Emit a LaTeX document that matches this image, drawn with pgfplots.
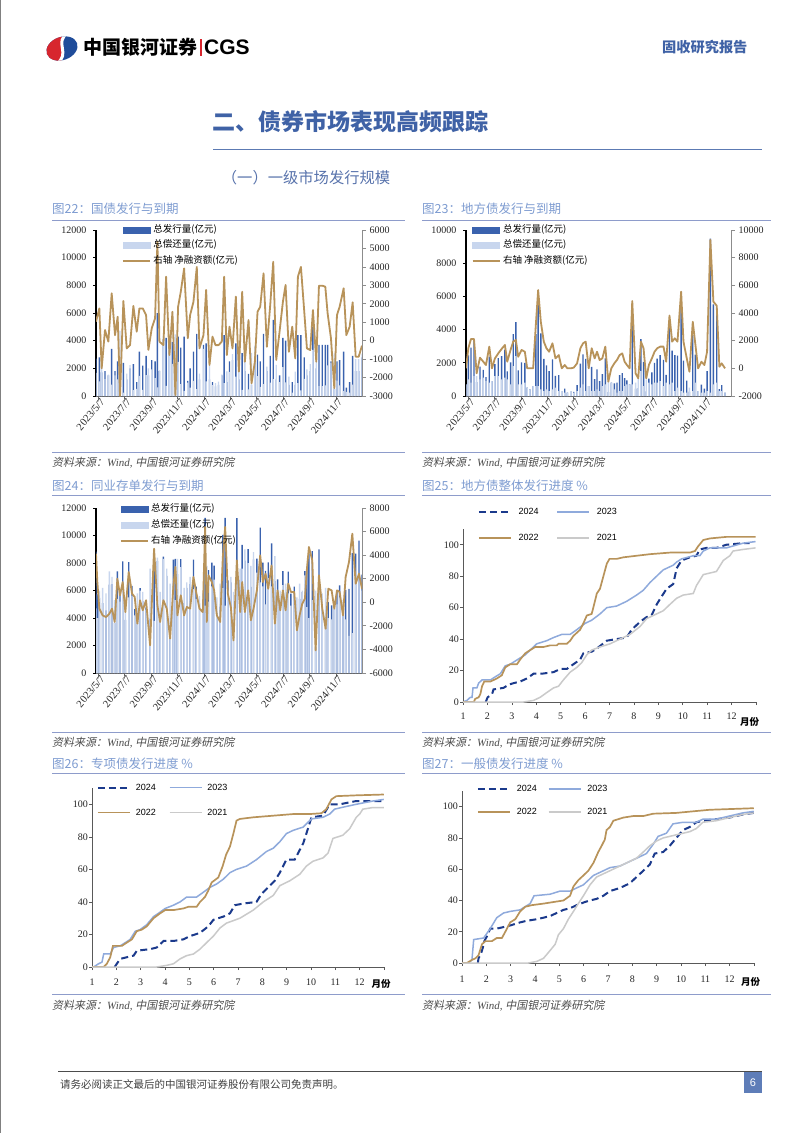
\documentclass[border=0pt]{standalone}
\usepackage{pgfplots}
\usepackage{pgfplotstable}
\pgfplotsset{compat=1.18}
\usepackage{fontspec}
\setmainfont{Liberation Serif}
\newfontfamily\cjk{Noto Sans CJK SC}
\newfontfamily\cjkit{Noto Sans CJK SC}[FakeSlant=0.2]
\newfontfamily\lsans{Liberation Sans}

\definecolor{barD}{HTML}{3A62AE}
\definecolor{barL}{HTML}{C8D6EE}
\definecolor{tanc}{HTML}{B8935A}
\definecolor{navy}{HTML}{1B3A8C}
\definecolor{lblue}{HTML}{8FAADC}
\definecolor{lgray}{HTML}{CACACA}
\definecolor{capblue}{HTML}{7E9CD1}
\definecolor{rulec}{HTML}{8E9CCB}
\definecolor{titleblue}{HTML}{3F62A6}
\definecolor{subblue}{HTML}{5873AC}
\definecolor{cgsred}{HTML}{D7262E}
\definecolor{cgsblue}{HTML}{1F4C9A}
\definecolor{pageblue}{HTML}{5E7DB8}

\pgfplotstableread{
x N I R
0 1030 2700 1670
10 1750 2800 1050
17 -1500 1700 3200
27 580 1800 1220
37 -50 1500 1550
47 2570 3400 830
57 300 1800 1500
65 1300 2500 1200
72 -3000 1700 4700
82 2150 2400 250
92 -420 1200 1620
102 -240 2000 2240
112 1880 2300 420
122 490 1000 510
130 1750 3200 1450
140 1750 2200 450
150 1390 2900 1510
157 -500 1500 2000
167 670 2600 1930
177 1210 2500 1290
184 5370 6000 630
190 -50 1800 1850
202 -240 4100 4340
210 3470 4200 730
220 -780 3500 4280
229 1570 3900 2330
238 -2950 1500 4450
246 1840 4300 2460
254 2650 3500 850
264 3920 4300 380
275 130 1100 970
282 1390 2000 610
292 2110 3200 1090
302 4000 4500 500
310 -420 1200 1620
322 300 3700 3400
330 2750 3800 1050
340 -1320 1200 2520
349 220 1000 780
358 -240 700 940
367 -240 800 1040
377 -50 1500 1550
384 3470 4400 930
392 -780 1000 1780
400 760 2500 1740
409 -420 2600 3020
419 2390 3800 1410
428 -1680 1200 2880
438 2650 3100 450
446 -1140 1800 2940
457 1120 1600 480
466 -2310 800 3110
476 -1140 2500 3640
484 1570 3000 1430
492 1840 2500 660
502 3650 4500 850
512 -330 1800 2130
522 1930 2900 970
531 4280 5500 1220
540 -1050 1200 2250
550 490 1500 1010
560 2110 4200 2090
568 3020 4000 980
578 -600 800 1400
588 760 1000 240
597 -960 800 1760
605 3470 4400 930
614 4000 4400 400
624 1570 2800 1230
632 -420 1500 1920
642 -510 1800 2310
650 1660 5000 3340
660 -1140 2000 3140
668 2980 3700 720
678 2980 3700 720
687 2930 3700 770
694 1480 3700 2220
704 130 2500 2370
714 -2580 500 3080
722 1390 2500 1110
730 1840 2600 760
742 2840 3200 360
750 300 600 300
760 760 1000 240
769 2080 2900 820
778 -870 1800 2670
787 -870 1800 2670
797 -270 2800 3070
}\tabA

\pgfplotstableread{
x N I R
0 0 700 700
7 1450 2450 1000
15 2120 2920 800
24 2120 3320 1200
32 -360 840 1200
42 770 1770 1000
52 480 1580 1100
60 240 1140 900
70 1570 2370 800
78 0 900 900
87 720 1920 1200
97 1080 2280 1200
107 1400 2400 1000
117 1690 2790 1100
124 480 1480 1000
134 1330 2030 700
142 1930 3730 1800
150 2050 4450 2400
157 840 1540 700
167 1330 2030 700
177 1200 2000 800
184 0 500 500
192 0 400 400
202 0 600 600
210 3130 3730 600
217 5660 6260 600
225 3370 3770 400
234 1930 2230 300
242 1450 1850 400
250 1200 1500 300
260 1810 2210 400
269 720 1220 500
279 960 1260 300
288 0 300 300
297 240 440 200
305 0 200 200
315 0 300 300
324 50 250 200
334 360 660 300
344 1450 1950 500
352 1810 2510 700
360 1930 2230 300
369 0 600 600
378 1450 1750 300
387 720 1020 300
394 1200 1600 400
402 600 900 300
410 720 1320 600
419 1570 2270 700
428 -960 240 1200
437 0 800 800
446 360 760 400
454 600 800 200
462 960 1260 300
470 1080 1380 300
477 480 1080 600
484 240 940 700
492 0 700 700
500 4870 5570 700
510 -360 440 800
518 -720 480 1200
526 1930 3430 1500
534 1450 2050 600
542 -720 280 1000
550 240 1040 800
559 720 1420 700
567 1200 2000 800
575 1450 2250 800
584 1570 2470 900
594 1570 2170 600
602 480 1280 800
612 3810 4510 700
620 1930 2730 800
628 2170 2470 300
636 1930 2430 500
647 5540 5840 300
654 1930 2130 200
664 720 920 200
672 -240 260 500
682 3370 3670 300
690 1690 2490 800
698 0 300 300
708 480 680 200
717 240 440 200
725 1200 1500 300
735 9280 9480 200
744 4820 5520 700
754 4530 5330 800
762 120 420 300
769 360 660 300
779 0 200 200
}\tabB

\pgfplotstableread{
x N I R
0 4120 8820 4700
4 1720 5720 4000
10 -540 5460 6000
20 -1110 5090 6200
30 -1250 4550 5800
40 -970 6430 7400
48 -540 6460 7000
56 -1670 3630 5300
64 2000 7400 5400
72 590 5790 5200
80 1720 8120 6400
88 -830 3870 4700
98 2570 8070 5500
108 730 6330 5600
116 450 4650 4200
124 -1810 3990 5800
132 170 6170 6000
140 -680 5220 5900
150 170 4770 4600
162 -3650 3950 7600
174 4550 8350 3800
184 -260 8140 8400
192 -1670 4230 5900
202 170 8470 8300
212 -540 7060 7600
222 -3080 3420 6500
232 1440 8240 6800
238 3000 8300 5300
244 -1110 7190 8300
254 590 8290 7700
264 -1110 5090 6200
272 -400 6200 6600
282 -540 6460 7000
292 2150 8250 6100
300 880 6280 5400
310 -540 5060 5600
320 -830 4970 5800
327 6390 11290 4900
332 -1670 6130 7800
337 2290 7490 5200
347 1720 8020 6300
354 1010 7810 6800
362 -1110 4390 5500
372 -1670 4830 6500
380 3840 10040 6200
387 6390 11290 4900
395 730 6730 6000
404 -400 6600 7000
412 -3230 2670 5900
422 3560 11260 7700
432 -830 6770 7600
438 1720 9320 7600
446 -830 8170 9000
456 1010 9010 8000
464 -1530 6270 7800
472 -540 8260 8800
482 1010 8310 7300
492 3980 10580 6600
500 1720 8020 6300
508 2430 7430 5000
516 1150 8050 6900
526 3130 9430 6300
536 -1810 6690 8500
544 1010 6810 5800
552 -680 5320 6000
560 1010 7410 6400
568 -680 5820 6500
576 1580 7380 5800
584 880 5780 4900
594 880 6280 5400
602 -2380 3120 5500
610 -1110 5390 6500
618 -120 5880 6000
626 310 7410 7100
632 2850 7650 4800
638 4690 8690 4000
648 3560 8860 5300
658 -4080 1920 6000
668 2290 8990 6700
678 -540 5260 5800
688 -2240 3960 6200
696 1150 5150 4000
706 1010 4910 3900
714 -540 4660 5200
722 1010 6010 5000
730 880 6380 5500
740 -1110 4190 5300
748 2150 6050 3900
758 3420 6120 2700
768 5820 8720 2900
778 1580 8680 7100
788 2430 9630 7200
797 1150 7150 6000
}\tabC

\pgfplotsset{
 barleft/.style={
  scale only axis, anchor=south west, width=266pt,
  xmin=0, xmax=797,
  axis x line*=bottom, axis y line*=left,
  x axis line style={-, draw=black!60, line width=0.9pt},
  y axis line style={-, draw=black, line width=1.3pt},
  xtick={7,86,166,245,324,402,481,560,640,719},
  xticklabels={2023/5/7,2023/7/7,2023/9/7,2023/11/7,2024/1/7,2024/3/7,2024/5/7,2024/7/7,2024/9/7,2024/11/7},
  xtick style={draw=black!60, line width=0.8pt},
  xticklabel style={rotate=50, anchor=east, inner sep=0pt, yshift=-4pt, xshift=2pt, font=\fontsize{10.5}{12}\selectfont, text=black!85},
  ytick style={draw=black, line width=0.8pt},
  tick align=outside, major tick length=3pt,
  yticklabel style={font=\fontsize{10}{12}\selectfont, text=black!85, xshift=-3pt},
  /pgf/number format/1000 sep={}, /pgf/number format/assume math mode=true,
  scaled y ticks=false,
 },
 barright/.style={
  scale only axis, anchor=south west, width=266pt,
  xmin=0, xmax=797,
  axis x line=none, axis y line*=right,
  y axis line style={-, draw=black!45, line width=0.9pt},
  ytick style={draw=black!45, line width=0.8pt},
  tick align=outside, major tick length=4pt,
  yticklabel style={font=\fontsize{10}{12}\selectfont, text=black!85},
  /pgf/number format/1000 sep={}, /pgf/number format/assume math mode=true,
  scaled y ticks=false,
  legend style={anchor=north west, draw=none, fill=none, inner sep=0pt, outer sep=0pt,
    font=\cjk\fontsize{9.5}{10}\selectfont, row sep=6.5pt,
    nodes={inner sep=0pt, text height=7pt, text depth=2pt},
    /tikz/every odd column/.append style={column sep=2.5pt}},
  legend cell align=left,
  legend image code/.code={\draw[#1] (0pt,0pt) -- (27pt,0pt);},
 },
 prog/.style={
  scale only axis, anchor=south west,
  xmin=1, xmax=13, ymin=0, ymax=110,
  xtick={1,...,13}, xticklabels={1,2,3,4,5,6,7,8,9,10,11,12,{}},
  ytick={0,20,...,100},
  axis x line*=bottom, axis y line*=left,
  axis line style={-, draw=black!65, line width=0.7pt},
  tick style={draw=black!65, line width=0.6pt},
  tick align=outside, major tick length=3pt,
  tick label style={font=\fontsize{10}{12}\selectfont, text=black!85},
  yticklabel style={inner sep=1pt},
  /pgf/number format/assume math mode=true,
  xlabel={\cjk\bfseries 月份}, xlabel style={anchor=center, font=\fontsize{9.5}{10}\selectfont},
  legend columns=2,
  legend style={anchor=north west, draw=none, fill=none, inner sep=0pt, outer sep=0pt,
    font=\lsans\fontsize{9}{10}\selectfont,
    nodes={inner sep=0pt, text height=7pt, text depth=2pt}},
  legend cell align=left,
  legend image code/.code={\draw[#1] (0pt,0pt) -- (32pt,0pt);},
  clip=false,
 },
 s24/.style={navy, line width=2pt, dash pattern=on 7pt off 4pt},
 s23/.style={lblue, line width=1.5pt},
 s22/.style={tanc, line width=1.7pt},
 s21/.style={lgray, line width=1.5pt},
 bI/.style={ybar, bar width=1.4pt, bar shift=0pt, fill=barD, draw=none},
 bR/.style={ybar, bar width=1.4pt, bar shift=0pt, fill=barL, draw=none},
}

\newcommand{\figcap}[3]{\node[anchor=west, inner sep=0pt, text=capblue, font=\cjk\fontsize{12.5}{13}\selectfont] at (#1pt,-#2pt) {#3};}
\newcommand{\figsrc}[2]{\node[anchor=west, inner sep=0pt, text=black!70, font=\fontsize{11}{12}\selectfont] at (#1pt,-#2pt) {{\cjkit 资料来源：}{\itshape Wind,} {\cjkit 中国银河证券研究院}};}

\begin{document}
\begin{tikzpicture}
\useasboundingbox (0pt,0pt) rectangle (802pt,-1133pt);
\fill[white] (0pt,0pt) rectangle (802pt,-1133pt);
\draw[black!50, line width=1pt] (0.5pt,0pt) -- (0.5pt,-1133pt);

% ---- logo ----
\begin{scope}
 \clip[rotate around={20:(62pt,-48.5pt)}] (62pt,-48.5pt) ellipse (16pt and 11.5pt);
 \fill[cgsblue] (40pt,-30pt) rectangle (85pt,-65pt);
 \fill[cgsred] (40pt,-30pt) -- (67pt,-30pt) .. controls (52pt,-42pt) and (72pt,-54pt) .. (57pt,-66pt) -- (40pt,-66pt) -- cycle;
 \draw[white, line width=3pt] (68pt,-33pt) .. controls (53pt,-42pt) and (72pt,-54pt) .. (56pt,-64pt);
\end{scope}
\node[anchor=west, inner sep=0pt, font=\cjk\bfseries\fontsize{19}{19}\selectfont] at (83pt,-47pt) {中国银河证券};
\draw[cgsred, line width=1.3pt] (201pt,-39pt) -- (201pt,-56pt);
\node[anchor=west, inner sep=0pt, font=\lsans\bfseries\fontsize{21}{21}\selectfont] at (204pt,-47.5pt) {CGS};
\node[anchor=west, inner sep=0pt, text=titleblue, font=\cjk\bfseries\fontsize{14.2}{15}\selectfont] at (662pt,-47pt) {固收研究报告};

% ---- titles ----
\node[anchor=west, inner sep=0pt, text=titleblue, font=\cjk\bfseries\fontsize{23}{24}\selectfont] at (212pt,-121.7pt) {二、债券市场表现高频跟踪};
\draw[titleblue!85, line width=1pt] (213pt,-149.3pt) -- (762pt,-149.3pt);
\node[anchor=west, inner sep=0pt, text=subblue, font=\cjk\fontsize{15.3}{16}\selectfont] at (221.7pt,-177.5pt) {（一）一级市场发行规模};

% ---- captions / rules ----
\figcap{52}{209}{图22：国债发行与到期}
\figcap{422}{209}{图23：地方债发行与到期}
\figcap{52}{486}{图24：同业存单发行与到期}
\figcap{422}{486}{图25：地方债整体发行进度 \%}
\figcap{52}{764}{图26：专项债发行进度 \%}
\figcap{422}{764}{图27：一般债发行进度 \%}
\foreach \y in {220,452.7,495.7,732.3,773.3,994.3}{
 \draw[rulec, line width=1pt] (52pt,-\y pt) -- (405pt,-\y pt);
 \draw[rulec, line width=1pt] (422pt,-\y pt) -- (771pt,-\y pt);
}
\figsrc{52}{462.7}
\figsrc{422}{462.7}
\figsrc{52}{742.7}
\figsrc{422}{742.7}
\figsrc{52}{1006}
\figsrc{422}{1006}

% ---- footer ----
\draw[black!70, line width=1pt] (58pt,-1071.7pt) -- (762pt,-1071.7pt);
\node[anchor=west, inner sep=0pt, text=black!75, font=\cjk\fontsize{10.5}{11}\selectfont] at (60pt,-1084pt) {请务必阅读正文最后的中国银河证券股份有限公司免责声明。};
\fill[pageblue] (744pt,-1072pt) rectangle (762pt,-1093pt);
\node[text=white, inner sep=0pt, font=\lsans\fontsize{11}{12}\selectfont] at (753pt,-1082.5pt) {6};

% ================= Chart 22 =================
\begin{axis}[barleft, at={(96pt,-396pt)}, height=166pt, ymin=0, ymax=12000, ytick={0,2000,...,12000}]
\addplot[bI] table[x=x,y=I]{\tabA};
\addplot[bR] table[x=x,y=R]{\tabA};
\end{axis}
\begin{axis}[barright, at={(96pt,-396pt)}, height=166pt, ymin=-3000, ymax=6000, ytick={-3000,-2000,...,6000}, legend style={at={(0.098,1.028)}}]
\addlegendimage{legend image code/.code={\fill[barD] (0pt,-3pt) rectangle (27pt,3pt);}}
\addlegendentry{总发行量(亿元)}
\addlegendimage{legend image code/.code={\fill[barL] (0pt,-3pt) rectangle (27pt,3pt);}}
\addlegendentry{总偿还量(亿元)}
\addplot[tanc, line width=1.8pt, line join=round] table[x=x,y=N]{\tabA};
\addlegendentry{右轴 净融资额(亿元)}
\end{axis}

% ================= Chart 23 =================
\begin{axis}[barleft, at={(466pt,-396pt)}, width=265pt, height=166pt, ymin=0, ymax=10000, ytick={0,2000,...,10000}]
\addplot[bI] table[x=x,y=I]{\tabB};
\addplot[bR] table[x=x,y=R]{\tabB};
\end{axis}
\begin{axis}[barright, at={(466pt,-396pt)}, width=265pt, height=166pt, ymin=-2000, ymax=10000, ytick={-2000,0,...,10000}, legend style={at={(0.0215,1.028)}}]
\addlegendimage{legend image code/.code={\fill[barD] (0pt,-3pt) rectangle (27pt,3pt);}}
\addlegendentry{总发行量(亿元)}
\addlegendimage{legend image code/.code={\fill[barL] (0pt,-3pt) rectangle (27pt,3pt);}}
\addlegendentry{总偿还量(亿元)}
\addplot[tanc, line width=1.8pt, line join=round] table[x=x,y=N]{\tabB};
\addlegendentry{右轴 净融资额(亿元)}
\end{axis}

% ================= Chart 24 =================
\begin{axis}[barleft, at={(96pt,-673pt)}, height=165pt, ymin=0, ymax=12000, ytick={0,2000,...,12000}]
\addplot[bI] table[x=x,y=I]{\tabC};
\addplot[bR] table[x=x,y=R]{\tabC};
\end{axis}
\begin{axis}[barright, at={(96pt,-673pt)}, height=165pt, ymin=-6000, ymax=8000, ytick={-6000,-4000,...,8000}, legend style={at={(0.090,1.022)}, row sep=7pt}]
\addlegendimage{legend image code/.code={\fill[barD] (0pt,-3pt) rectangle (27pt,3pt);}}
\addlegendentry{总发行量(亿元)}
\addlegendimage{legend image code/.code={\fill[barL] (0pt,-3pt) rectangle (27pt,3pt);}}
\addlegendentry{总偿还量(亿元)}
\addplot[tanc, line width=1.8pt, line join=round] table[x=x,y=N]{\tabC};
\addlegendentry{右轴 净融资额(亿元)}
\end{axis}

% ================= Chart 25 =================
\begin{axis}[prog, at={(463pt,-702pt)}, width=293pt, height=173pt,
 xticklabel style={yshift=-4.5pt},
 xlabel style={at={(axis description cs:0.978,-0.116)}},
 legend style={at={(0.051,1.125)}, row sep=17pt,
   /tikz/every odd column/.append style={column sep=6.7pt},
   /tikz/every even column/.append style={column sep=18pt}}]
\addplot[s24] coordinates {(1.93,0) (2.01,3) (2.19,5) (2.25,8) (2.66,9) (2.87,11) (3.07,12) (3.34,13) (3.62,15) (3.89,18) (4.23,18) (4.71,19) (4.98,21) (5.25,21) (5.52,24) (5.80,27) (5.93,31) (6.27,32) (6.48,34) (6.89,39) (7.29,40) (7.70,41) (7.91,46) (8.25,51) (8.52,54) (8.72,55) (8.93,62) (9.13,67) (9.34,72) (9.61,75) (9.75,85) (9.95,90) (10.29,92) (10.56,93) (10.70,97) (10.97,98) (11.38,98) (11.79,100) (12.47,101) (12.74,101)};
\addlegendentry{2024}
\addplot[s23] coordinates {(1,0) (1.16,1) (1.30,3) (1.37,3) (1.41,9) (1.57,9) (1.64,12) (1.78,14) (2.12,14) (2.32,16) (2.53,18) (2.73,23) (2.93,24) (3.34,28) (3.55,30) (3.75,33) (4.02,37) (4.43,39) (4.71,41) (5.05,43) (5.39,43) (5.66,46) (6.0,50) (6.27,52) (6.61,56) (6.89,60) (7.29,61) (7.70,64) (8.11,68) (8.38,71) (8.66,76) (8.93,80) (9.20,84) (9.61,87) (9.75,89) (9.95,91) (10.43,93) (10.70,93) (10.84,96) (11.11,98) (11.79,98) (12.47,101) (12.98,102)};
\addlegendentry{2023}
\addplot[s22] coordinates {(1,0) (1.44,0) (1.50,2) (1.64,3) (1.71,5) (1.78,10) (1.87,13) (2.12,13) (2.39,15) (2.59,17) (2.73,22) (2.93,24) (3.21,24) (3.34,27) (3.55,31) (3.75,33) (3.96,35) (4.30,35) (4.57,36) (4.84,36) (4.91,37) (5.25,37) (5.39,39) (5.52,42) (5.66,44) (5.80,46) (5.93,50) (6.07,55) (6.27,56) (6.37,62) (6.48,69) (6.61,72) (6.75,80) (6.89,88) (7.0,91) (7.29,91) (7.57,92) (8.11,93) (8.66,94) (9.47,95) (10.29,95) (10.50,96) (10.63,99) (10.84,103) (11.11,104) (11.79,105) (12.98,105)};
\addlegendentry{2022}
\addplot[s21] coordinates {(1,0) (3.48,0) (3.89,1) (4.16,3) (4.43,6) (4.71,9) (4.91,10) (5.11,14) (5.39,19) (5.66,22) (5.86,25) (6.07,30) (6.27,33) (6.61,35) (7.02,37) (7.43,40) (7.84,43) (8.25,48) (8.52,53) (8.79,55) (9.20,58) (9.47,62) (9.75,66) (10.02,68) (10.43,69) (10.56,74) (10.84,81) (11.11,82) (11.38,83) (11.66,90) (11.93,93) (12.06,96) (12.47,97) (12.98,98)};
\addlegendentry{2021}
\end{axis}

% ================= Chart 26 =================
\begin{axis}[prog, at={(92pt,-967pt)}, width=292pt, height=179pt,
 xticklabel style={yshift=-5pt},
 xlabel style={at={(axis description cs:0.99,-0.097)}},
 legend style={at={(0.017,1.028)}, row sep=16pt,
   /tikz/every odd column/.append style={column sep=5pt},
   /tikz/every even column/.append style={column sep=13pt}}]
\addplot[s24] coordinates {(1.93,0) (2.02,2) (2.16,5) (2.43,6) (2.71,7) (2.84,10) (3.39,11) (3.66,12) (3.94,16) (4.35,16) (4.76,17) (5.03,19) (5.44,21) (5.78,25) (5.99,29) (6.40,31) (6.67,33) (6.87,38) (7.22,39) (7.76,40) (7.97,45) (8.31,50) (8.51,53) (8.72,58) (8.99,66) (9.33,66) (9.68,76) (9.81,82) (10.02,92) (10.49,93) (10.77,100) (11.18,100) (11.86,102) (12.99,102)};
\addlegendentry{2024}
\addplot[s23] coordinates {(1,0) (1.07,0) (1.27,2) (1.41,3) (1.48,8) (1.75,8) (1.89,12) (2.16,13) (2.37,15) (2.57,17) (2.78,22) (2.98,23) (3.25,26) (3.53,31) (3.73,33) (4.01,36) (4.35,38) (4.62,40) (4.89,43) (5.30,43) (5.58,46) (5.85,49) (6.12,51) (6.40,54) (6.67,58) (6.94,60) (7.35,62) (7.76,66) (8.17,71) (8.45,73) (8.72,77) (8.99,82) (9.27,84) (9.68,86) (9.88,89) (10.02,91) (10.49,92) (10.77,94) (10.97,97) (11.25,98) (11.86,100) (12.54,102) (12.99,103)};
\addlegendentry{2023}
\addplot[s22] coordinates {(1,0) (1.48,0) (1.61,2) (1.75,6) (1.86,13) (2.23,13) (2.43,15) (2.64,17) (2.84,22) (3.05,23) (3.25,25) (3.53,30) (3.80,33) (4.01,35) (4.35,35) (4.76,36) (4.96,37) (5.30,37) (5.44,40) (5.64,43) (5.78,47) (5.92,52) (6.19,55) (6.37,62) (6.51,69) (6.67,74) (6.81,82) (6.94,90) (7.08,91) (7.63,92) (8.45,93) (9.27,94) (9.95,94) (10.43,94.5) (10.63,97) (10.84,103) (11.04,105) (11.86,105.5) (12.99,106)};
\addlegendentry{2022}
\addplot[s21] coordinates {(1,0) (3.66,0) (4.07,1) (4.35,2) (4.62,5) (4.89,7) (5.17,8) (5.44,11) (5.71,15) (5.99,19) (6.26,24) (6.53,27) (7.08,30) (7.63,35) (8.04,40) (8.45,44) (8.72,50) (9.13,53) (9.54,57) (9.81,62) (10.08,65) (10.49,67) (10.70,70) (10.90,79) (11.31,81) (11.59,85) (11.86,92) (12.00,94) (12.13,97) (12.54,98) (12.99,98)};
\addlegendentry{2021}
\end{axis}

% ================= Chart 27 =================
\begin{axis}[prog, at={(462pt,-963pt)}, width=292pt, height=172pt,
 xticklabel style={yshift=-6pt},
 xlabel style={at={(axis description cs:0.988,-0.109)}},
 legend style={at={(0.051,1.039)}, row sep=14pt,
   /tikz/every odd column/.append style={column sep=6pt},
   /tikz/every even column/.append style={column sep=11pt}}]
\addplot[s24] coordinates {(1.65,0) (1.68,3) (1.78,6) (1.86,10) (1.92,14) (2.02,17) (2.16,22) (2.43,22) (2.71,23) (2.98,24) (3.39,26) (3.66,27) (4.07,28) (4.35,29) (4.62,30) (4.89,32) (5.17,34) (5.44,35) (5.71,37) (6.05,39) (6.26,40) (6.53,41) (6.81,43) (7.08,46) (7.49,48) (7.90,51) (8.17,55) (8.45,59) (8.72,63) (8.92,70) (9.27,71) (9.54,75) (9.81,80) (10.08,85) (10.36,87) (10.63,90) (10.90,91) (11.45,92) (11.99,93) (12.54,95) (12.99,96)};
\addlegendentry{2024}
\addplot[s23] coordinates {(1,0) (1.27,0) (1.41,2) (1.48,15) (1.89,16) (2.16,22) (2.43,29) (2.71,32) (2.98,33) (3.39,34) (3.80,38) (3.96,43) (4.62,44) (5.03,46) (5.44,46) (5.71,48) (5.99,50) (6.40,56) (6.81,59) (7.08,61) (7.49,62) (7.90,65) (8.31,68) (8.58,70) (8.86,76) (9.06,81) (9.40,83) (9.67,89) (10.08,90) (10.63,90) (10.90,92) (11.45,92) (11.99,94) (12.54,96) (12.99,97)};
\addlegendentry{2023}
\addplot[s22] coordinates {(1,0) (1.20,0) (1.41,2) (1.55,3) (1.68,5) (1.82,12) (1.96,14) (2.23,14) (2.43,16) (2.64,16) (2.78,20) (2.98,26) (3.19,28) (3.39,33) (3.60,36) (3.87,37) (4.35,38) (4.76,39) (5.17,40) (5.44,43) (5.58,49) (5.78,53) (5.99,56) (6.19,59) (6.40,64) (6.60,71) (6.74,75) (6.87,79) (6.94,85) (7.08,87) (7.22,91) (7.63,93) (8.04,94) (8.45,94) (8.86,95.5) (9.81,96) (10.49,97) (11.18,98) (12.99,99)};
\addlegendentry{2022}
\addplot[s21] coordinates {(1,0) (3.73,0) (4.07,1) (4.35,3) (4.62,8) (4.83,12) (4.96,18) (5.17,22) (5.37,28) (5.58,33) (5.78,38) (5.99,43) (6.26,50) (6.53,55) (6.94,58) (7.35,61) (7.76,64) (8.17,67) (8.45,71) (8.72,75) (8.99,78) (9.27,80) (9.81,82) (10.36,84) (10.63,86) (10.90,90) (11.45,91) (11.99,93) (12.54,95) (12.99,96)};
\addlegendentry{2021}
\end{axis}
\end{tikzpicture}
\end{document}
